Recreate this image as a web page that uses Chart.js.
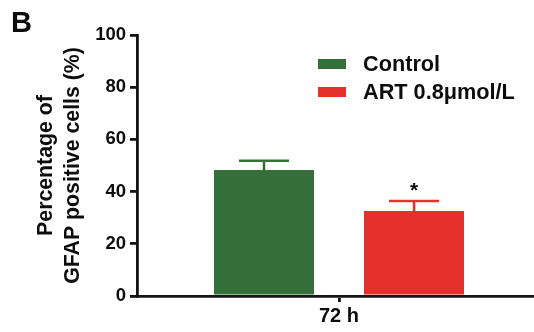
<!DOCTYPE html>
<html>
<head>
<meta charset="utf-8">
<script src="https://cdn.jsdelivr.net/npm/chart.js@4"></script>
<style>
  html, body { margin: 0; padding: 0; overflow: hidden; background: #fff; }
  #wrap { position: relative; width: 534px; height: 332px; overflow: hidden; }
  #panel { position: absolute; left: 11px; top: 6px; font: bold 29px Arial, "Liberation Sans", sans-serif; color: #0d0d0d; }
  canvas { position: absolute; left: 0; top: 0; }
</style>
</head>
<body>
<div id="wrap">
  <canvas id="gfapChart" width="541" height="332"></canvas>
  <div id="panel">B</div>
</div>
<script>
// data
const timeLabels = ["72 h"];
const groupNames = ["Control", "ART 0.8μmol/L"];
const meanValues = [48.3, 32.6];
const semValues = [3.5, 3.8];
const significance = ["", "*"];
const yTicks = [0, 20, 40, 60, 80, 100];

const groupColors = ["#35703a", "#e5312b"];
const fontFamily = "Arial, 'Liberation Sans', sans-serif";
const axisColor = "#141414";
const textColor = "#0d0d0d";

// build datasets from the arrays
const datasets = groupNames.map((name, i) => ({
  label: name,
  data: [meanValues[i]],
  backgroundColor: groupColors[i],
  borderWidth: 0,
  categoryPercentage: 0.7426,
  barPercentage: 0.6667
}));

// error bars + significance stars
const errorBars = {
  id: "errorBars",
  afterDatasetsDraw(chart) {
    const ctx = chart.ctx;
    const yScale = chart.scales.y;
    chart.data.datasets.forEach((ds, i) => {
      const bar = chart.getDatasetMeta(i).data[0];
      const top = yScale.getPixelForValue(meanValues[i] + semValues[i]);
      const half = bar.width / 4;
      ctx.save();
      ctx.strokeStyle = groupColors[i];
      ctx.lineWidth = 2.5;
      ctx.beginPath();
      ctx.moveTo(bar.x, bar.y);
      ctx.lineTo(bar.x, top);
      ctx.moveTo(bar.x - half, top);
      ctx.lineTo(bar.x + half, top);
      ctx.stroke();
      if (significance[i]) {
        ctx.fillStyle = textColor;
        ctx.font = "bold 21px " + fontFamily;
        ctx.textAlign = "center";
        ctx.textBaseline = "middle";
        ctx.fillText(significance[i], bar.x, top - 10);
      }
      ctx.restore();
    });
  }
};

// legend drawn inside the plot
const innerLegend = {
  id: "innerLegend",
  afterDraw(chart) {
    const ctx = chart.ctx;
    const area = chart.chartArea;
    const boxX = area.left + 181;
    ctx.save();
    ctx.font = "bold 21.7px " + fontFamily;
    ctx.textBaseline = "middle";
    ctx.textAlign = "left";
    chart.data.datasets.forEach((ds, i) => {
      const cy = 64 + i * 28;
      ctx.fillStyle = ds.backgroundColor;
      ctx.fillRect(boxX, cy - 5, 28, 10);
      ctx.fillStyle = textColor;
      ctx.fillText(ds.label, boxX + 45, cy + 1);
    });
    ctx.restore();
  }
};

const gfapChart = new Chart(document.getElementById("gfapChart"), {
  type: "bar",
  data: { labels: timeLabels, datasets: datasets },
  options: {
    responsive: false,
    animation: false,
    layout: { padding: { top: 35, left: 0, right: 0, bottom: 0 } },
    plugins: {
      legend: { display: false },
      tooltip: { enabled: false }
    },
    scales: {
      x: {
        grid: { offset: false, drawOnChartArea: false, drawTicks: true, tickLength: 6, color: axisColor, lineWidth: 2.8 },
        border: { color: axisColor, width: 2.8 },
        ticks: { color: textColor, padding: 2, font: { family: fontFamily, size: 20, weight: "bold" } },
        afterFit(scale) { scale.height = 36; }
      },
      y: {
        min: 0,
        max: 100,
        afterBuildTicks(scale) { scale.ticks = yTicks.map(v => ({ value: v })); },
        grid: { drawOnChartArea: false, drawTicks: true, tickLength: 7, color: axisColor, lineWidth: 2.8 },
        border: { color: axisColor, width: 2.8 },
        ticks: { color: textColor, padding: 4, font: { family: fontFamily, size: 18.5, weight: "bold" } },
        title: {
          display: true,
          text: ["Percentage of", "GFAP positive cells (%)"],
          color: textColor,
          padding: { top: 32, bottom: 0 },
          font: { family: fontFamily, size: 21.3, weight: "bold", lineHeight: 1.3 }
        },
        afterFit(scale) { scale.width = 137; }
      }
    }
  },
  plugins: [errorBars, innerLegend]
});
</script>
</body>
</html>
